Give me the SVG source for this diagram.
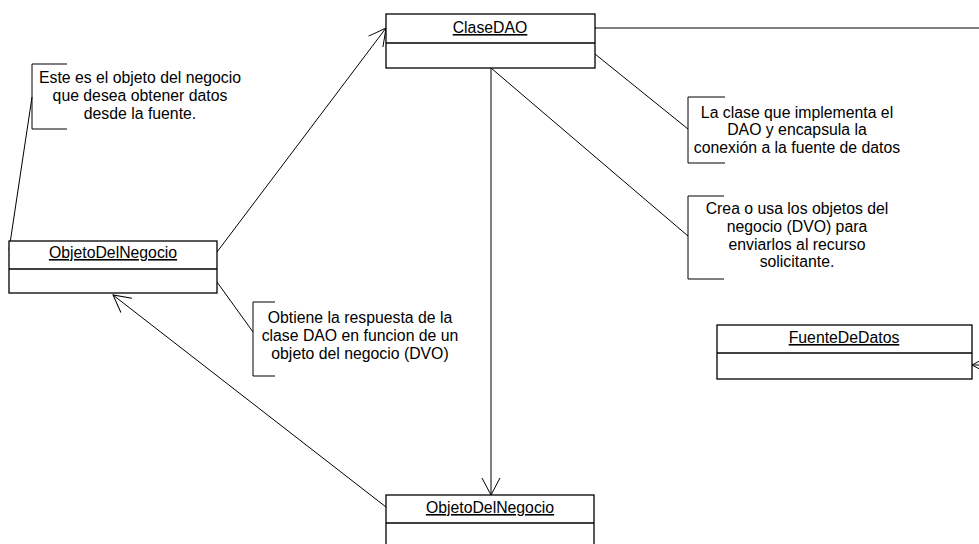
<svg xmlns="http://www.w3.org/2000/svg" width="979" height="544" viewBox="0 0 979 544">
  <style>
    .box { fill: #ffffff; stroke: #000000; stroke-width: 1.3; }
    .div { stroke: #000000; stroke-width: 1.3; }
    .line { fill: none; stroke: #000000; stroke-width: 1; }
    .note { fill: none; stroke: #000000; stroke-width: 1; }
    text { font-family: "Liberation Sans", Arial, sans-serif; font-size: 15.8px; fill: #000000; }
    .name { text-anchor: middle; text-decoration: underline; }
    .ntext { text-anchor: middle; }
  </style>
  <defs>
    <marker id="open" markerUnits="userSpaceOnUse" markerWidth="20" markerHeight="20" viewBox="-1 -10 20 20" refX="17" refY="0" orient="auto" overflow="visible">
      <path d="M0,-9 L17,0 L0,9" fill="none" stroke="#000000" stroke-width="1"/>
    </marker>
  </defs>

  <rect width="979" height="544" fill="#ffffff"/>

  <!-- connectors -->
  <g id="connectors">
    <line class="line" x1="217" y1="252" x2="386" y2="28" marker-end="url(#open)"/>
    <line class="line" x1="386" y1="507" x2="113" y2="295" marker-end="url(#open)"/>
    <line class="line" x1="491" y1="68" x2="491" y2="495" marker-end="url(#open)"/>
    <line class="line" x1="595" y1="28" x2="985" y2="28"/>
    <line class="line" x1="1000" y1="365" x2="972" y2="365" marker-end="url(#open)"/>
    <!-- note anchors -->
    <line class="line" x1="32" y1="97" x2="9" y2="250"/>
    <line class="line" x1="217" y1="282" x2="253" y2="332"/>
    <line class="line" x1="595" y1="54" x2="688" y2="129"/>
    <line class="line" x1="491" y1="68" x2="688" y2="236"/>
  </g>

  <!-- classes -->
  <g id="claseDAO">
    <rect class="box" x="386" y="14" width="209" height="54"/>
    <line class="div" x1="386" y1="43" x2="595" y2="43"/>
    <text class="name" x="490" y="33">ClaseDAO</text>
  </g>

  <g id="objetoDelNegocio1">
    <rect class="box" x="9" y="241" width="208" height="52"/>
    <line class="div" x1="9" y1="269" x2="217" y2="269"/>
    <text class="name" x="113" y="258">ObjetoDelNegocio</text>
  </g>

  <g id="objetoDelNegocio2">
    <rect class="box" x="386" y="495" width="208" height="54"/>
    <line class="div" x1="386" y1="523" x2="594" y2="523"/>
    <text class="name" x="490" y="513">ObjetoDelNegocio</text>
  </g>

  <g id="fuenteDeDatos">
    <rect class="box" x="717" y="325" width="255" height="54"/>
    <line class="div" x1="717" y1="353" x2="972" y2="353"/>
    <text class="name" x="844" y="343">FuenteDeDatos</text>
  </g>

  <!-- notes -->
  <g id="note1">
    <path class="note" d="M67,64 H32 V129 H67"/>
    <text class="ntext" x="140" y="83">Este es el objeto del negocio</text>
    <text class="ntext" x="140" y="101">que desea obtener datos</text>
    <text class="ntext" x="140" y="118.5">desde la fuente.</text>
  </g>

  <g id="note2">
    <path class="note" d="M275,302 H253 V376 H275"/>
    <text class="ntext" x="360" y="323">Obtiene la respuesta de la</text>
    <text class="ntext" x="360" y="341">clase DAO en funcion de un</text>
    <text class="ntext" x="360" y="358.5">objeto del negocio (DVO)</text>
  </g>

  <g id="note3">
    <path class="note" d="M725,97 H688 V163 H725"/>
    <text class="ntext" x="797" y="117.5">La clase que implementa el</text>
    <text class="ntext" x="797" y="135.3">DAO y encapsula la</text>
    <text class="ntext" x="797" y="153">conexión a la fuente de datos</text>
  </g>

  <g id="note4">
    <path class="note" d="M724,196 H688 V279 H724"/>
    <text class="ntext" x="797" y="214.3">Crea o usa los objetos del</text>
    <text class="ntext" x="797" y="232">negocio (DVO) para</text>
    <text class="ntext" x="797" y="249.5">enviarlos al recurso</text>
    <text class="ntext" x="797" y="267.3">solicitante.</text>
  </g>
</svg>
